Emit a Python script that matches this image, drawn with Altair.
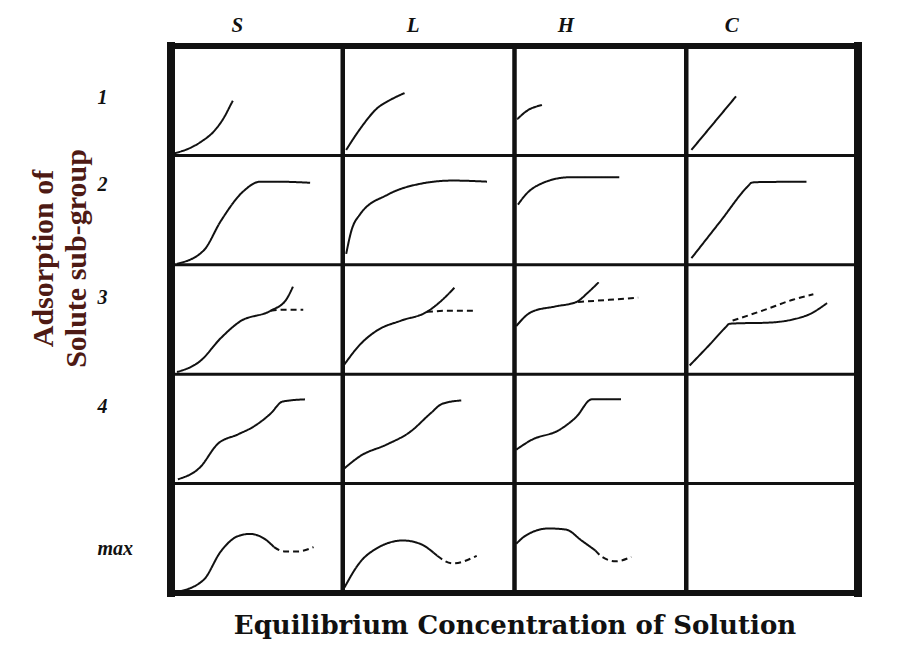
import altair as alt
import pandas as pd

# ---------------- data ----------------
COLUMNS = ["S", "L", "H", "C"]
ROWS = ["1", "2", "3", "4", "max"]
X_TITLE = "Equilibrium Concentration of Solution"
Y_TITLE = ["Adsorption of", "Solute sub-group"]

# curves in local cell coordinates (fraction of cell width / height)
S1_X = [0.02, 0.10, 0.18, 0.25, 0.31, 0.35, 0.36]
S1_Y = [0.02, 0.06, 0.13, 0.22, 0.35, 0.47, 0.50]
L1_X = [0.02, 0.10, 0.20, 0.28, 0.36]
L1_Y = [0.05, 0.24, 0.43, 0.51, 0.57]
H1_X = [0.015, 0.075, 0.16]
H1_Y = [0.33, 0.41, 0.46]
C1_X = [0.03, 0.29]
C1_Y = [0.05, 0.54]

S2_X = [0.035, 0.19, 0.29, 0.42, 0.52, 0.61, 0.81]
S2_Y = [0.01, 0.13, 0.40, 0.67, 0.76, 0.76, 0.75]
L2_X = [0.02, 0.05, 0.10, 0.26, 0.45, 0.64, 0.84]
L2_Y = [0.10, 0.31, 0.46, 0.64, 0.74, 0.77, 0.76]
H2_X = [0.02, 0.07, 0.14, 0.32, 0.61]
H2_Y = [0.55, 0.65, 0.73, 0.80, 0.80]
C2_X = [0.03, 0.20, 0.36, 0.38, 0.40, 0.70]
C2_Y = [0.06, 0.40, 0.72, 0.75, 0.755, 0.76]

S3_X = [0.035, 0.17, 0.29, 0.40, 0.58, 0.67, 0.71]
S3_Y = [0.02, 0.12, 0.33, 0.48, 0.58, 0.68, 0.80]
S3D_X = [0.58, 0.66, 0.77]
S3D_Y = [0.58, 0.59, 0.59]
L3_X = [0.01, 0.10, 0.20, 0.34, 0.49, 0.58, 0.65]
L3_Y = [0.09, 0.27, 0.40, 0.49, 0.57, 0.68, 0.79]
L3D_X = [0.49, 0.62, 0.76]
L3D_Y = [0.57, 0.58, 0.58]
H3_X = [0.01, 0.10, 0.24, 0.36, 0.43, 0.49]
H3_Y = [0.44, 0.57, 0.62, 0.66, 0.75, 0.84]
H3D_X = [0.37, 0.55, 0.72]
H3D_Y = [0.66, 0.68, 0.70]
C3_X = [0.02, 0.13, 0.23, 0.25, 0.30, 0.46, 0.62, 0.72, 0.82]
C3_Y = [0.08, 0.26, 0.43, 0.46, 0.465, 0.47, 0.50, 0.55, 0.65]
C3D_X = [0.27, 0.46, 0.62, 0.74]
C3D_Y = [0.49, 0.59, 0.68, 0.73]

S4_X = [0.04, 0.17, 0.27, 0.39, 0.48, 0.58, 0.65, 0.78]
S4_Y = [0.04, 0.15, 0.36, 0.45, 0.52, 0.64, 0.75, 0.77]
L4_X = [0.01, 0.10, 0.26, 0.39, 0.51, 0.58, 0.69]
L4_Y = [0.14, 0.25, 0.36, 0.47, 0.64, 0.73, 0.76]
H4_X = [0.01, 0.10, 0.26, 0.36, 0.45, 0.62]
H4_Y = [0.31, 0.40, 0.49, 0.61, 0.77, 0.77]

S5_X = [0.035, 0.19, 0.29, 0.39, 0.46, 0.54, 0.60]
S5_Y = [0.01, 0.12, 0.38, 0.52, 0.54, 0.50, 0.42]
S5D_X = [0.60, 0.66, 0.74, 0.83]
S5D_Y = [0.42, 0.38, 0.38, 0.42]
L5_X = [0.01, 0.10, 0.20, 0.35, 0.45, 0.55]
L5_Y = [0.05, 0.28, 0.41, 0.48, 0.45, 0.34]
L5D_X = [0.55, 0.64, 0.78]
L5D_Y = [0.34, 0.27, 0.34]
H5_X = [0.01, 0.07, 0.20, 0.30, 0.39, 0.47]
H5_Y = [0.45, 0.53, 0.59, 0.58, 0.48, 0.39]
H5D_X = [0.47, 0.51, 0.59, 0.68]
H5D_Y = [0.39, 0.33, 0.29, 0.33]

CURVES = [
    ("S", "1", "solid", S1_X, S1_Y), ("L", "1", "solid", L1_X, L1_Y),
    ("H", "1", "solid", H1_X, H1_Y), ("C", "1", "solid", C1_X, C1_Y),
    ("S", "2", "solid", S2_X, S2_Y), ("L", "2", "solid", L2_X, L2_Y),
    ("H", "2", "solid", H2_X, H2_Y), ("C", "2", "solid", C2_X, C2_Y),
    ("S", "3", "solid", S3_X, S3_Y), ("S", "3", "dashed", S3D_X, S3D_Y),
    ("L", "3", "solid", L3_X, L3_Y), ("L", "3", "dashed", L3D_X, L3D_Y),
    ("H", "3", "solid", H3_X, H3_Y), ("H", "3", "dashed", H3D_X, H3D_Y),
    ("C", "3", "solid", C3_X, C3_Y), ("C", "3", "dashed", C3D_X, C3D_Y),
    ("S", "4", "solid", S4_X, S4_Y), ("L", "4", "solid", L4_X, L4_Y),
    ("H", "4", "solid", H4_X, H4_Y),
    ("S", "max", "solid", S5_X, S5_Y), ("S", "max", "dashed", S5D_X, S5D_Y),
    ("L", "max", "solid", L5_X, L5_Y), ("L", "max", "dashed", L5D_X, L5D_Y),
    ("H", "max", "solid", H5_X, H5_Y), ("H", "max", "dashed", H5D_X, H5D_Y),
]

NC, NR = len(COLUMNS), len(ROWS)
records = []
for k, (col, row, style, xs, ys) in enumerate(CURVES):
    ci, ri = COLUMNS.index(col), ROWS.index(row)
    for i, (x, y) in enumerate(zip(xs, ys)):
        records.append(dict(curve=k, style=style, order=i,
                            gx=ci + x, gy=(NR - 1 - ri) + y))
curves_df = pd.DataFrame(records)
vlines = pd.DataFrame({"gx": list(range(NC + 1))})
hlines = pd.DataFrame({"gy": list(range(NR + 1))})

col_expr = "[" + ",".join(f"'{c}'" for c in COLUMNS) + "][floor(datum.value)]"
row_expr = "[" + ",".join(f"'{r}'" for r in reversed(ROWS)) + "][floor(datum.value)]"

# per-label nudges of the hand-lettered headers (pixels)
col_offset = {"condition": [
    {"test": "datum.value < 1", "value": -20},
    {"test": "datum.value < 2", "value": -16},
    {"test": "datum.value < 3", "value": -35}], "value": -41}
row_offset = {"condition": [
    {"test": "datum.value < 1", "value": 10},
    {"test": "datum.value > 4", "value": -3},
    {"test": "datum.value > 3", "value": -26}], "value": -22}

xscale = alt.Scale(domain=[0, NC], nice=False, zero=False)
yscale = alt.Scale(domain=[0, NR], nice=False, zero=False)
INK = "#111111"

vrules = alt.Chart(vlines).mark_rule(color=INK, strokeCap="square").encode(
    x=alt.X("gx:Q", scale=xscale, axis=alt.Axis(
        orient="top", values=[i + 0.5 for i in range(NC)], labelExpr=col_expr,
        ticks=False, tickSize=0, domain=False, grid=False, labelOverlap=False,
        labelPadding=11, labelOffset=col_offset, labelFont="Liberation Serif",
        labelFontSize=21, labelFontStyle="italic", labelFontWeight="bold",
        labelColor=INK, title=None)),
    strokeWidth=alt.condition(f"datum.gx == 0 || datum.gx == {NC}",
                              alt.value(8), alt.value(4.5)),
)

hrules = alt.Chart(hlines).mark_rule(color=INK, strokeCap="square").encode(
    y=alt.Y("gy:Q", scale=yscale, axis=alt.Axis(
        orient="left", values=[i + 0.5 for i in range(NR)], labelExpr=row_expr,
        ticks=False, tickSize=0, domain=False, grid=False, labelOverlap=False,
        labelAlign="left", labelBaseline="middle", labelPadding=74,
        labelOffset=row_offset, labelFont="Liberation Serif", labelFontSize=20,
        labelFontStyle="italic", labelFontWeight="bold", labelColor=INK,
        title=Y_TITLE, titleX=-128, titleY=212, titleAngle=270,
        titleAlign="center", titleBaseline="middle", titleLineHeight=33,
        titleFont="Liberation Serif", titleFontSize=30, titleFontWeight="bold",
        titleColor="#4e1a14")),
    strokeWidth=alt.condition(f"datum.gy == 0 || datum.gy == {NR}",
                              alt.value(6), alt.value(3)),
)

lines = alt.Chart(curves_df).mark_line(color=INK, strokeWidth=2,
                                       interpolate="monotone").encode(
    x=alt.X("gx:Q", scale=xscale, axis=alt.Axis(
        orient="bottom", title=X_TITLE, labels=False, ticks=False, domain=False,
        grid=False, titleFont="DejaVu Serif", titleFontSize=26,
        titleFontWeight="bold", titleColor=INK, titleBaseline="alphabetic",
        titleY=40)),
    y=alt.Y("gy:Q", scale=yscale, axis=None),
    detail="curve:N",
    order="order:Q",
    strokeDash=alt.StrokeDash("style:N", scale=alt.Scale(
        domain=["solid", "dashed"], range=[[1, 0], [6, 4]]), legend=None),
)

chart = alt.layer(vrules, hrules, lines).resolve_axis(
    x="independent", y="independent"
).properties(
    width=687, height=547, autosize="none",
    padding={"left": 171, "top": 46, "right": 50, "bottom": 54},
    background="white",
).configure_view(stroke=None)

chart.save("out.html", embed_options={"renderer": "svg", "actions": False})
